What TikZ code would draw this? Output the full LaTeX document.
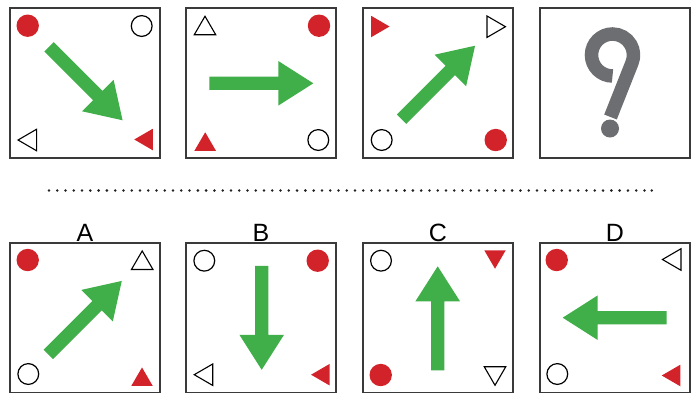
\documentclass[tikz,border=0pt]{standalone}
\usepackage{fontspec}
\setmainfont{Liberation Sans}
\definecolor{myred}{HTML}{D2232A}
\definecolor{mygreen}{HTML}{40AE49}
\definecolor{qgray}{HTML}{6D6E71}
\definecolor{framec}{HTML}{3A3A3A}
\definecolor{dotc}{HTML}{222222}
\newcommand\mytri[4]{\path[#4, shift={(#1,#2)}, rotate=#3] (9.25,0) -- (-9.25,10.75) -- (-9.25,-10.75) -- cycle;}
\newcommand\garrow[3]{\fill[mygreen, shift={(#1,#2)}, rotate=#3] (-52,-6.6) -- (17,-6.6) -- (17,-22.3) -- (52,0) -- (17,22.3) -- (17,6.6) -- (-52,6.6) -- cycle;}
\newcommand\reddisc[2]{\fill[myred] (#1,#2) circle[radius=11.2pt];}
\newcommand\openring[2]{\draw[black, line width=1.2pt] (#1,#2) circle[radius=10.4pt];}
\tikzset{
  tout/.style={draw=black, line width=1.1pt, line join=miter},
  tin/.style={fill=myred},
  boxframe/.style={draw=framec, line width=1.3pt},
  lab/.style={anchor=base, inner sep=0pt, font=\fontsize{25}{25}\selectfont, text=black}
}
\begin{document}
\begin{tikzpicture}[x=1pt, y=-1pt]
\useasboundingbox (0,0) rectangle (699,392);
\clip (0,0) rectangle (699,392);
% Box 1
\begin{scope}[shift={(10,8)}]
  \draw[boxframe] (0,0) rectangle (150,150);
  \reddisc{17.7}{17.7}
  \openring{131.7}{18}
  \mytri{17.3}{132}{180}{tout}
  \mytri{133.5}{131.5}{180}{tin}
  \garrow{75.8}{75.5}{-45}
\end{scope}
% Box 2
\begin{scope}[shift={(186,8)}]
  \draw[boxframe] (0,0) rectangle (150,150);
  \mytri{19}{17.5}{90}{tout}
  \reddisc{133}{17.7}
  \mytri{19.2}{133.5}{90}{tin}
  \openring{132.3}{132}
  \garrow{75.3}{75.3}{0}
\end{scope}
% Box 3
\begin{scope}[shift={(363,8)}]
  \draw[boxframe] (0,0) rectangle (150,150);
  \mytri{17.3}{18.5}{0}{tin}
  \mytri{133.2}{18.7}{0}{tout}
  \openring{18.7}{132}
  \reddisc{132.7}{132}
  \garrow{75.3}{74.5}{45}
\end{scope}
% Box 4
\begin{scope}[shift={(540,8)}]
  \draw[boxframe] (0,0) rectangle (150,150);
  \draw[qgray, line width=13.5pt, line cap=butt] (72.5,68) arc[start angle=270, end angle=-22, radius=21pt] -- (70.5,109);
  \fill[qgray] (70,120.5) circle[radius=9pt];
\end{scope}
% dotted separator
\foreach \k in {0,...,72} \fill[dotc] ({49+8.27*\k},190.5) circle[radius=1.4pt];
\fill[dotc] (651.7,190.5) circle[radius=1.4pt];
% labels
\node[lab] (la) at (85,241) {A};
\node[lab] (lb) at (261,241) {B};
\node[lab] (lc) at (438,241) {C};
\node[lab] (ld) at (615,241) {D};
% Box A
\begin{scope}[shift={(10,243)}]
  \draw[boxframe] (0,0) rectangle (150,150);
  \reddisc{17.7}{17}
  \mytri{132.2}{17.2}{90}{tout}
  \openring{18.3}{131}
  \mytri{132}{133.7}{90}{tin}
  \garrow{75}{74.7}{45}
\end{scope}
% Box B
\begin{scope}[shift={(186,243)}]
  \draw[boxframe] (0,0) rectangle (150,150);
  \openring{18.3}{17.7}
  \reddisc{131.7}{17.7}
  \mytri{17.5}{131.7}{180}{tout}
  \mytri{134.3}{131.7}{180}{tin}
  \garrow{75.7}{74.8}{-90}
\end{scope}
% Box C
\begin{scope}[shift={(363,243)}]
  \draw[boxframe] (0,0) rectangle (150,150);
  \openring{18}{17.7}
  \mytri{132}{16.5}{-90}{tin}
  \reddisc{17.7}{132}
  \mytri{132}{133}{-90}{tout}
  \garrow{74.7}{75.3}{90}
\end{scope}
% Box D
\begin{scope}[shift={(540,243)}]
  \draw[boxframe] (0,0) rectangle (150,150);
  \reddisc{16.7}{17}
  \mytri{131.7}{16.5}{180}{tout}
  \openring{17.3}{131}
  \mytri{131}{132.5}{180}{tin}
  \garrow{74.7}{74.7}{180}
\end{scope}
\end{tikzpicture}
\end{document}
